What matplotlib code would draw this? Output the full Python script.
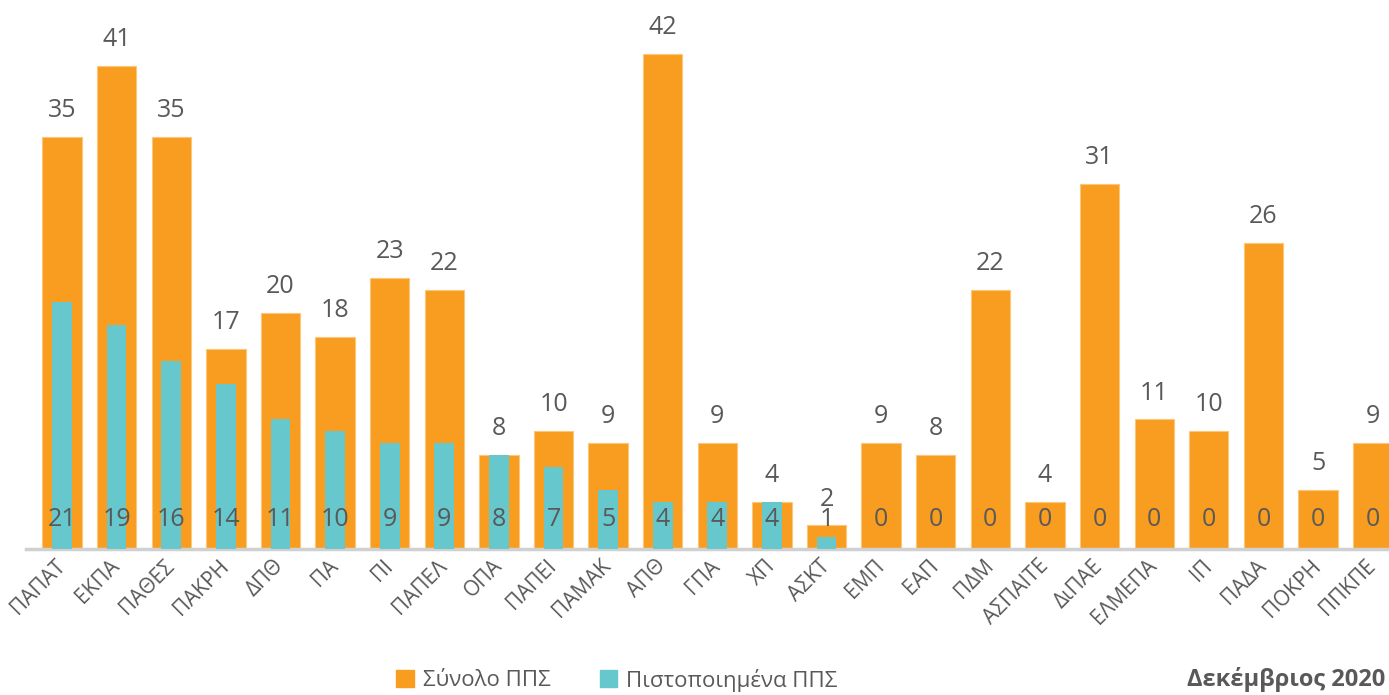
import matplotlib.pyplot as plt
from matplotlib.patches import Patch

# Data
institutions = ['ΠΑΠΑΤ', 'ΕΚΠΑ', 'ΠΑΘΕΣ', 'ΠΑΚΡΗ', 'ΔΠΘ', 'ΠΑ', 'ΠΙ', 'ΠΑΠΕΛ',
                'ΟΠΑ', 'ΠΑΠΕΙ', 'ΠΑΜΑΚ', 'ΑΠΘ', 'ΓΠΑ', 'ΧΠ', 'ΑΣΚΤ', 'ΕΜΠ',
                'ΕΑΠ', 'ΠΔΜ', 'ΑΣΠΑΙΤΕ', 'ΔιΠΑΕ', 'ΕΛΜΕΠΑ', 'ΙΠ', 'ΠΑΔΑ',
                'ΠΟΚΡΗ', 'ΠΠΚΠΕ']
total_pps = [35, 41, 35, 17, 20, 18, 23, 22, 8, 10, 9, 42, 9, 4, 2, 9,
             8, 22, 4, 31, 11, 10, 26, 5, 9]
certified_pps = [21, 19, 16, 14, 11, 10, 9, 9, 8, 7, 5, 4, 4, 4, 1, 0,
                 0, 0, 0, 0, 0, 0, 0, 0, 0]

orange = '#F89D1F'
teal = '#66C8CD'
grey_text = '#595959'

plt.rcParams['font.family'] = ['Open Sans', 'DejaVu Sans']

fig = plt.figure(figsize=(13.89, 6.95), dpi=100)
ax = fig.add_axes([26 / 1389, 146 / 695, 1 - 26 / 1389, 549 / 695])

x = list(range(len(institutions)))
ax.bar(x, total_pps, width=0.72, color=orange, edgecolor='#FBC77A',
       linewidth=0.8, zorder=2)
ax.bar(x, certified_pps, width=0.36, color=teal, zorder=3)

# value labels
for i in x:
    ax.annotate(str(total_pps[i]), (i, total_pps[i]), xytext=(0, 10),
                textcoords='offset points', ha='center', va='bottom',
                fontsize=18, color=grey_text)
    ax.annotate(str(certified_pps[i]), (i, 0), xytext=(0, 21),
                textcoords='offset points', ha='center', va='center',
                fontsize=18, color=grey_text, zorder=4)

ax.set_xlim(-0.66, 24.3)
ax.set_ylim(0, 46.6)
ax.set_xticks(x)
ax.set_xticklabels(institutions, rotation=45, ha='right', va='center',
                   rotation_mode='anchor', fontsize=15, color=grey_text)
ax.tick_params(axis='x', length=0, pad=10)
ax.set_yticks([])
for side in ['top', 'right', 'left']:
    ax.spines[side].set_visible(False)
ax.spines['bottom'].set_color('#D0D0D0')
ax.spines['bottom'].set_linewidth(2.5)

handles = [Patch(color=orange, label='Σύνολο ΠΠΣ'),
           Patch(color=teal, label='Πιστοποιημένα ΠΠΣ')]
leg = fig.legend(handles=handles, loc='center', ncol=2,
                 bbox_to_anchor=(617 / 1389, 15 / 695), frameon=False,
                 fontsize=16, handlelength=0.8, handleheight=0.8,
                 handletextpad=0.4, columnspacing=2.2)
for t in leg.get_texts():
    t.set_color(grey_text)

fig.text(0.997, 15 / 695, 'Δεκέμβριος 2020', ha='right', va='center',
         fontsize=17, fontweight='bold', color=grey_text)

fig.savefig('out.png', dpi=100)
